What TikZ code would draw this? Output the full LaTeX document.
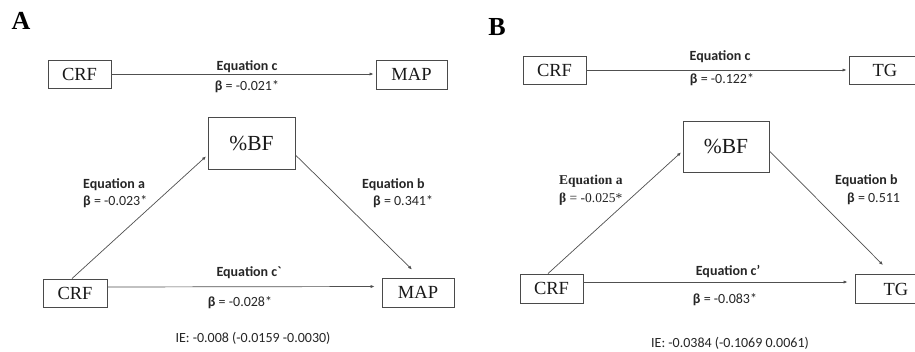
\documentclass[tikz,border=0pt]{standalone}
\usepackage{fontspec}
\setmainfont{Liberation Serif}
\newfontfamily\lbl{Carlito}
\usetikzlibrary{arrows.meta}
\definecolor{edgec}{HTML}{4A4A4A}
\definecolor{linec}{HTML}{505050}
\tikzset{
  box/.style={draw=edgec, line width=0.9pt, inner sep=0pt, minimum height=28pt,
    font=\fontsize{18.5}{20}\selectfont, text=black!90},
  conn/.style={draw=linec, line width=0.7pt, -{Latex[length=4pt,width=3.2pt]}},
  eq/.style={font=\lbl\bfseries\fontsize{14}{16}\selectfont, inner sep=0pt, text=black!85},
  beta/.style={font=\lbl\fontsize{14}{16}\selectfont, inner sep=0pt, text=black!85},
  eqserif/.style={font=\rmfamily\bfseries\fontsize{13.5}{15}\selectfont, inner sep=0pt, text=black!85},
  betaserif/.style={font=\rmfamily\fontsize{13.5}{15}\selectfont, inner sep=0pt, text=black!85},
  panel/.style={font=\bfseries\fontsize{26}{28}\selectfont, inner sep=0pt}
}
\newcommand{\bb}{\textbf{β}}
\begin{document}
\begin{tikzpicture}[x=1pt,y=-1pt]
\useasboundingbox[fill=white] (0,0) rectangle (915,351);
\begin{scope}
\clip (0,0) rectangle (915,351);
% ---------- Panel A ----------
\node[panel] (lA) at (21,21) {A};
\node[box, minimum width=63pt] (crfA1) at (79.5,74) {CRF};
\node[box, minimum width=71pt, minimum height=29pt] (mapA1) at (411.5,74.5) {MAP};
\node[box, minimum width=87pt, minimum height=52pt, font=\fontsize{21.5}{23}\selectfont] (bfA) at (251.5,143) {\%BF};
\node[box, minimum width=64pt] (crfA2) at (75,293) {CRF};
\node[box, minimum width=72pt, minimum height=29pt] (mapA2) at (418,292.5) {MAP};

\draw[conn, shorten >=2pt] (crfA1.east) -- (crfA1.east -| mapA1.west);
\draw[conn, shorten >=2pt] ([xshift=-3pt]crfA2.north) -- ([yshift=-12pt]bfA.west);
\draw[conn] ([yshift=-12pt]bfA.east) -- ([xshift=-6pt,yshift=8pt]mapA2.north);
\draw[conn, shorten >=7pt] ([yshift=6pt]crfA2.east) -- ([yshift=6pt]mapA2.west);

\node[eq] (eqcA) at (247,67) {Equation c};
\node[beta] (bcA) at (247,87) {\bb{} = -0.021*};
\node[eq, anchor=west] (eqaA) at (83,185) {Equation a};
\node[beta, anchor=west] (baA) at (83,202) {\bb{} = -0.023*};
\node[eq, anchor=west] (eqbA) at (362,185) {Equation b};
\node[beta, anchor=west] (bbA) at (373,202) {\bb{} = 0.341*};
\node[eq] (eqcpA) at (249,273) {Equation c`};
\node[beta] (bcpA) at (240,303) {\bb{} = -0.028*};
\node[beta] (ieA) at (253,338) {IE: -0.008 (-0.0159 -0.0030)};

% ---------- Panel B ----------
\node[panel] (lB) at (497,27) {B};
\node[box, minimum width=63pt] (crfB1) at (554.5,70) {CRF};
\node[box, minimum width=72pt] (tgB1) at (885,70) {TG};
\node[box, minimum width=86pt, minimum height=51pt, font=\fontsize{21.5}{23}\selectfont] (bfB) at (726,146.5) {\%BF};
\node[box, minimum width=63pt, minimum height=29pt] (crfB2) at (551.5,288.5) {CRF};
\node[box, minimum width=82pt, minimum height=29pt] (tgB2) at (896,289) {TG};

\draw[conn, shorten >=2pt] (crfB1.east) -- (crfB1.east -| tgB1.west);
\draw[conn, shorten >=2pt] ([xshift=-3.5pt]crfB2.north) -- ([yshift=-4.5pt]bfB.west);
\draw[conn] ([yshift=-4.5pt]bfB.east) -- ([xshift=-13pt,yshift=9pt]tgB2.north);
\draw[conn, shorten >=7pt] ([yshift=6.5pt]crfB2.east) -- ([yshift=6.5pt]crfB2.east -| tgB2.west);

\node[eq] (eqcB) at (720,57) {Equation c};
\node[beta] (bcB) at (722,80) {\bb{} = -0.122*};
\node[eqserif, anchor=west] (eqaB) at (559,181) {Equation a};
\node[betaserif, anchor=west] (baB) at (559,199) {\textbf{β} = -0.025*};
\node[eq, anchor=west] (eqbB) at (835,181) {Equation b};
\node[beta, anchor=west] (bbB) at (847,199) {\bb{} = 0.511};
\node[eq] (eqcpB) at (728,272) {Equation c’};
\node[beta] (bcpB) at (725,300) {\bb{} = -0.083*};
\node[beta] (ieB) at (730,343) {IE: -0.0384 (-0.1069 0.0061)};
\end{scope}
\end{tikzpicture}
\end{document}
